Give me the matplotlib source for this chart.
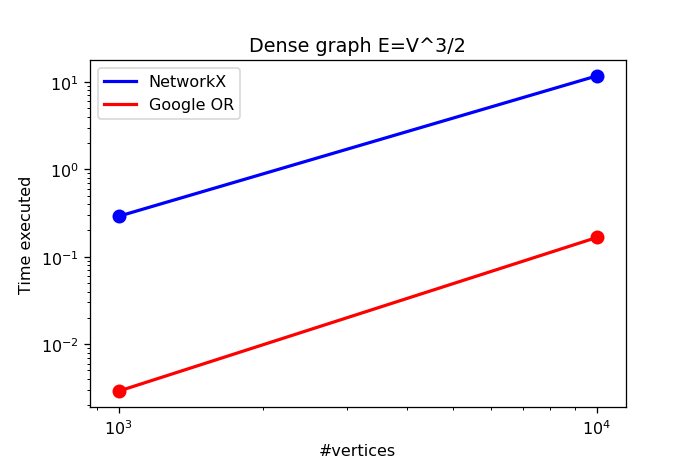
import matplotlib
matplotlib.use("Agg")
import matplotlib.pyplot as plt

vertices = [1000, 10000]
networkx_time = [0.29, 11.7]
google_or_time = [0.0029, 0.166]

fig, ax = plt.subplots(figsize=(6.0, 4.026), dpi=115)
fig.subplots_adjust(left=0.130, right=0.907, bottom=0.119, top=0.868)

ax.plot(vertices, networkx_time, color="blue", lw=2, label="NetworkX")
ax.plot(vertices, google_or_time, color="red", lw=2, label="Google OR")
ax.scatter(vertices, networkx_time, color="blue", s=60, zorder=3)
ax.scatter(vertices, google_or_time, color="red", s=60, zorder=3)

ax.set_xscale("log")
ax.set_yscale("log")
ax.set_xlim(870, 11500)
ax.set_title("Dense graph E=V^3/2")
ax.set_xlabel("#vertices")
ax.set_ylabel("Time executed")
ax.legend(loc="upper left")

fig.savefig("out.png")
